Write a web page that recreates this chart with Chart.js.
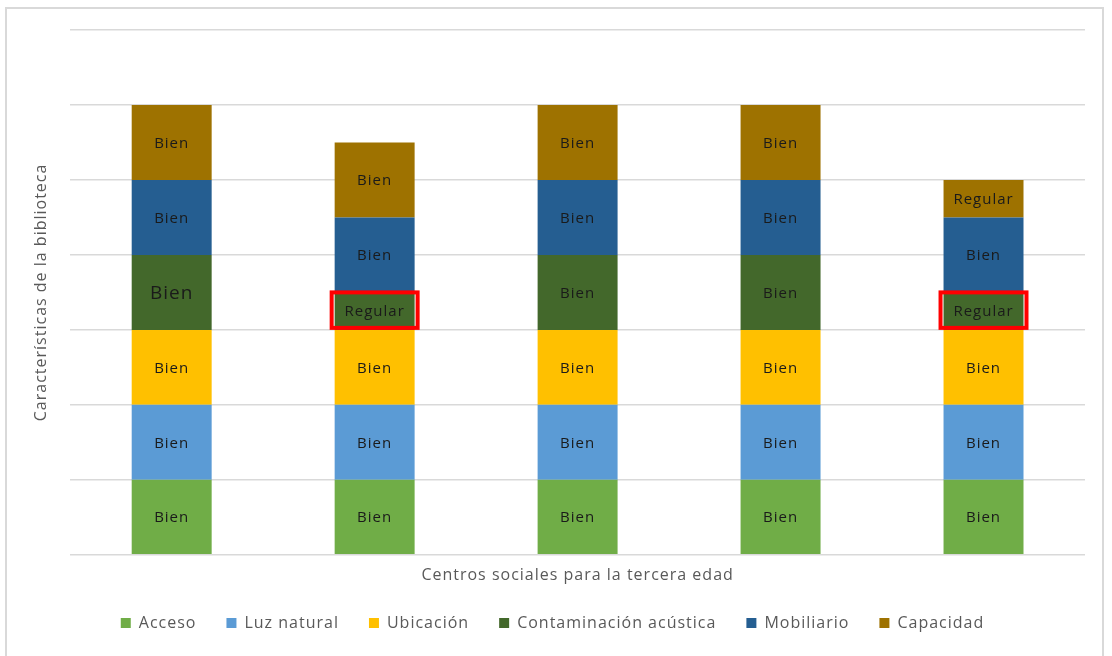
<!DOCTYPE html>
<html>
<head>
<meta charset="utf-8">
<script src="https://cdn.jsdelivr.net/npm/chart.js@4"></script>
<style>
  html, body { margin: 0; padding: 0; background: #fff; }
  #frame { position: absolute; left: 5px; top: 7px; width: 1099px; height: 660px; border: 2px solid #d9d9d9; box-sizing: border-box; }
  #wrap { position: absolute; left: 0; top: 0; width: 1112px; height: 656px; }
</style>
</head>
<body>
<div id="frame"></div>
<div id="wrap"><canvas id="c" width="1112" height="656"></canvas></div>
<script>
// ---- data ----
const categories = ['Centro 1', 'Centro 2', 'Centro 3', 'Centro 4', 'Centro 5'];
const seriesNames = ['Acceso', 'Luz natural', 'Ubicación', 'Contaminación acústica', 'Mobiliario', 'Capacidad'];
const acceso        = [1, 1, 1, 1, 1];
const luzNatural    = [1, 1, 1, 1, 1];
const ubicacion     = [1, 1, 1, 1, 1];
const contaminacion = [1, 0.5, 1, 1, 0.5];
const mobiliario    = [1, 1, 1, 1, 1];
const capacidad     = [1, 1, 1, 1, 0.5];
const ratingText = { 1: 'Bien', 0.5: 'Regular' };
// highlighted segments: [series index, category index]
const highlighted = [[3, 1], [3, 4]];
// enlarged label: [series index, category index]
const enlarged = [[3, 0]];

const colors = ['#70ad47', '#5b9bd5', '#ffc000', '#43682b', '#255e91', '#9e7200'];
const allSeries = [acceso, luzNatural, ubicacion, contaminacion, mobiliario, capacidad];
const FONT = '"Open Sans", Lato, sans-serif';

const spacingPlugin = {
  id: 'spacing',
  beforeUpdate(chart) { chart.ctx.letterSpacing = '1px'; },
  beforeLayout(chart) { chart.ctx.letterSpacing = '1px'; },
  beforeDraw(chart) { chart.ctx.letterSpacing = '1px'; }
};

const labelPlugin = {
  id: 'segLabels',
  afterDatasetsDraw(chart) {
    const ctx = chart.ctx;
    ctx.save();
    ctx.textAlign = 'center';
    ctx.textBaseline = 'middle';
    chart.data.datasets.forEach((ds, di) => {
      const meta = chart.getDatasetMeta(di);
      meta.data.forEach((el, i) => {
        const v = ds.data[i];
        const big = enlarged.some(p => p[0] === di && p[1] === i);
        ctx.font = (big ? '19px ' : '15px ') + FONT;
        ctx.fillStyle = '#1a1a1a';
        const cy = (el.y + el.base) / 2;
        ctx.fillText(ratingText[v], el.x, cy + 1);
      });
    });
    highlighted.forEach(([di, i]) => {
      const el = chart.getDatasetMeta(di).data[i];
      const top = Math.min(el.y, el.base), bot = Math.max(el.y, el.base);
      ctx.strokeStyle = '#ff0000';
      ctx.lineWidth = 4;
      ctx.strokeRect(el.x - el.width / 2 - 3, top, el.width + 6, bot - top - 2);
    });
    ctx.restore();
  }
};

new Chart(document.getElementById('c'), {
  type: 'bar',
  data: {
    labels: categories,
    datasets: allSeries.map((d, k) => ({
      label: seriesNames[k],
      data: d,
      backgroundColor: colors[k],
      borderWidth: 0,
      categoryPercentage: 1,
      barPercentage: 0.394
    }))
  },
  options: {
    responsive: false,
    animation: false,
    devicePixelRatio: 1,
    layout: { padding: { left: 20, right: 27, top: 30, bottom: 15 } },
    plugins: {
      tooltip: { enabled: false },
      legend: {
        position: 'bottom',
        labels: {
          boxWidth: 10, boxHeight: 10, padding: 30,
          color: '#595959',
          font: { size: 16, family: FONT }
        }
      }
    },
    scales: {
      x: {
        stacked: true,
        grid: { display: false, drawTicks: false },
        border: { display: false },
        ticks: { display: false },
        title: {
          display: true, text: 'Centros sociales para la tercera edad',
          color: '#595959', font: { size: 16, family: FONT },
          padding: { top: 11, bottom: 0 }
        }
      },
      y: {
        stacked: true,
        min: 0, max: 7,
        ticks: { display: false, stepSize: 1 },
        grid: { color: '#d9d9d9', lineWidth: 1.5, drawTicks: false },
        border: { display: false },
        title: {
          display: true, text: 'Características de la biblioteca',
          color: '#595959', font: { size: 16, family: FONT },
          padding: { top: 12, bottom: 19 }
        }
      }
    }
  },
  plugins: [spacingPlugin, labelPlugin]
});
</script>
</body>
</html>
